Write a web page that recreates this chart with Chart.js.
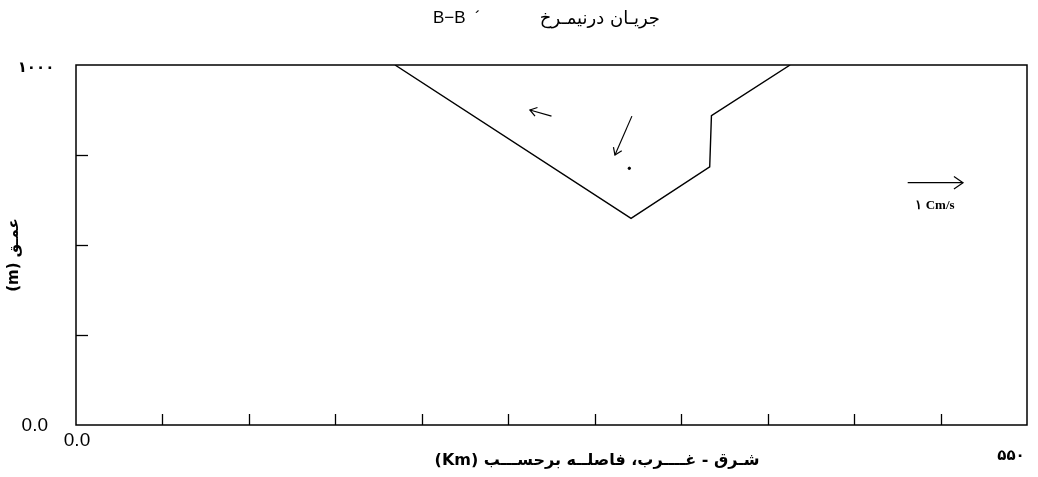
<!DOCTYPE html>
<html><head><meta charset="utf-8">
<script src="https://cdn.jsdelivr.net/npm/chart.js@4/dist/chart.umd.min.js"></script>
<style>html,body{margin:0;padding:0;background:#fff}#wrap{width:1038px;height:477px}</style>
</head><body><div id="wrap"><canvas id="c" width="1038" height="477"></canvas></div>
<script>
const titleFa = 'جریـان درنیمـرخ';
const titleSection = 'B−B  ´';
const xAxisTitle = 'شـرق - غــــرب، فاصلــه برحســـب (Km)';
const yAxisTitle = 'عمـق (m)';
const legendLabel = '۱ Cm/s';
const xTickValues = [0,50,100,150,200,250,300,350,400,450,500,550];
const yTickValues = [0,250,500,750,1000];
const xEndLabels = ['0.0','۵۵۰'];
const yEndLabels = ['0.0','۱۰۰۰'];
const profileX = [184.5, 321, 366.5, 367.5, 413];
const profileY = [1000, 574, 717, 859, 1000];
const vecTailX = [275, 321.5, 481];
const vecTailY = [858, 858, 673];
const vecHeadX = [262.5, 311.7, 513];
const vecHeadY = [875, 750, 673];
const dotX = [320];
const dotY = [713];

const datasets = [{
  data: profileX.map((x,i)=>({x, y: profileY[i]})),
  showLine: true, borderColor: '#000', borderWidth: 1.4, pointRadius: 0, tension: 0
}];
vecTailX.forEach((tx,i)=>{
  datasets.push({data:[{x:tx,y:vecTailY[i]},{x:vecHeadX[i],y:vecHeadY[i]}],
    showLine:true,borderColor:'#000',borderWidth:1.2,pointRadius:0,arrow:true,headLen:i===2?11:8});
});
datasets.push({data: dotX.map((x,i)=>({x,y:dotY[i]})), pointRadius:1.2, backgroundColor:'#000', borderColor:'#000', showLine:false});

const deco = {
  id:'deco',
  afterDatasetsDraw(chart){
    const ctx = chart.ctx, a = chart.chartArea, xs = chart.scales.x, ys = chart.scales.y;
    ctx.save();
    chart.data.datasets.forEach(ds=>{
      if(!ds.arrow) return;
      const x1 = xs.getPixelForValue(ds.data[0].x), y1 = ys.getPixelForValue(ds.data[0].y);
      const x2 = xs.getPixelForValue(ds.data[1].x), y2 = ys.getPixelForValue(ds.data[1].y);
      const ang = Math.atan2(y2-y1, x2-x1), L = ds.headLen, h = 0.6;
      ctx.strokeStyle='#000'; ctx.lineWidth=1.2;
      ctx.beginPath();
      ctx.moveTo(x2 - L*Math.cos(ang-h), y2 - L*Math.sin(ang-h));
      ctx.lineTo(x2,y2);
      ctx.lineTo(x2 - L*Math.cos(ang+h), y2 - L*Math.sin(ang+h));
      ctx.stroke();
    });
    ctx.strokeStyle='#000'; ctx.lineWidth=1.5;
    ctx.strokeRect(a.left, a.top, a.right-a.left, a.bottom-a.top);
    ctx.lineWidth=1.3;
    xTickValues.slice(1,-1).forEach(v=>{
      const p = Math.round(xs.getPixelForValue(v))+0.5;
      ctx.beginPath(); ctx.moveTo(p,a.bottom); ctx.lineTo(p,a.bottom-11); ctx.stroke();
    });
    yTickValues.slice(1,-1).forEach(v=>{
      const p = Math.round(ys.getPixelForValue(v))+0.5;
      ctx.beginPath(); ctx.moveTo(a.left,p); ctx.lineTo(a.left+12,p); ctx.stroke();
    });
    ctx.fillStyle='#000';
    ctx.font = '19px "Liberation Sans", Arial, sans-serif';
    ctx.textAlign='right'; ctx.textBaseline='middle';
    ctx.fillText(yEndLabels[0], a.left-28, ys.getPixelForValue(0)+1);
    ctx.textAlign='center';
    ctx.fillText(xEndLabels[0], xs.getPixelForValue(0)+1, a.bottom+16);
    ctx.font = 'bold 15px "DejaVu Sans", sans-serif';
    ctx.textAlign='center'; ctx.textBaseline='middle';
    ctx.fillText(yEndLabels[1], 36, ys.getPixelForValue(1000)+3);
    ctx.fillText(xEndLabels[1], xs.getPixelForValue(550)-16, a.bottom+31);
    ctx.font = '18px "DejaVu Sans", sans-serif';
    ctx.direction='rtl'; ctx.textAlign='right'; ctx.textBaseline='middle';
    ctx.fillText(titleFa, 660, 19);
    ctx.direction='ltr'; ctx.textAlign='left';
    ctx.font = '17px "Liberation Sans", Arial, sans-serif';
    ctx.fillText(titleSection, 433, 18);
    ctx.font = 'bold 16px "DejaVu Sans", sans-serif';
    ctx.direction='rtl'; ctx.textAlign='center';
    ctx.fillText(xAxisTitle, 597, 461);
    ctx.save();
    ctx.translate(14, 255); ctx.rotate(-Math.PI/2);
    ctx.font = 'bold 15px "DejaVu Sans", sans-serif';
    ctx.fillText(yAxisTitle, 0, 0);
    ctx.restore();
    ctx.direction='ltr';
    ctx.font = 'bold 13px "Liberation Serif", serif';
    ctx.textAlign='center';
    ctx.fillText(legendLabel, 935, 206);
    ctx.restore();
  }
};

new Chart(document.getElementById('c'), {
  type:'scatter',
  data:{datasets},
  options:{
    responsive:false, animation:false, devicePixelRatio:1,
    layout:{padding:{left:76,right:11,top:65,bottom:52}},
    plugins:{legend:{display:false},tooltip:{enabled:false},title:{display:false}},
    scales:{
      x:{type:'linear',min:0,max:550,display:false},
      y:{type:'linear',min:0,max:1000,display:false}
    }
  },
  plugins:[deco]
});
</script></body></html>
